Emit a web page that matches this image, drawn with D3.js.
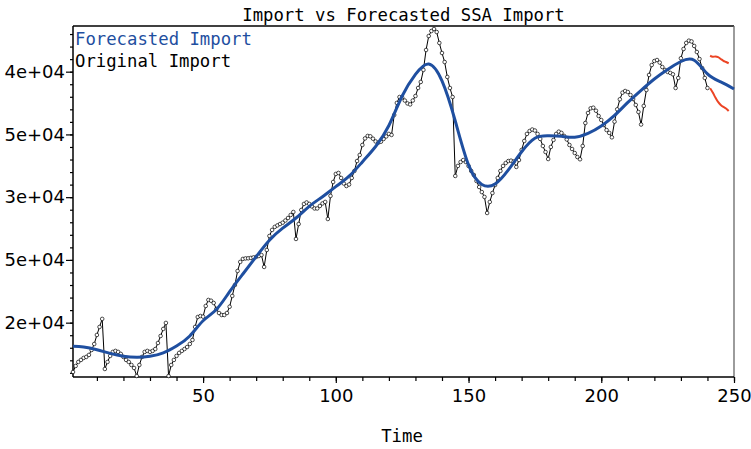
<!DOCTYPE html>
<html><head><meta charset="utf-8">
<script src="https://cdn.jsdelivr.net/npm/d3@7"></script>
<style>body{margin:0;background:#fff}svg{display:block}</style>
</head><body>
<svg id="chart" width="751" height="449"></svg>
<script>
// ---- data ----
const original = [
16070,16550,16870,17030,17190,17270,17430,17820,18300,19020,19660,20300,
16310,16870,17350,17670,17750,17670,17510,17270,17030,16870,16630,16390,
15750,16630,17270,17670,17750,17670,17750,17900,18380,18940,19500,19980,
15750,16630,17030,17350,17590,17750,17900,18060,18300,18620,19660,20450,
20530,20480,21330,21810,21750,21570,21090,20770,20610,20610,20770,21270,
22130,23000,24120,24840,25080,25120,25130,25160,25200,25240,25310,25390,
24440,25790,26910,27390,27630,27750,27860,27970,28140,28340,28580,28820,
26670,27860,28980,29460,29580,29460,29260,29100,29100,29300,29500,29620,
28260,30100,31210,31850,31930,31530,31090,30890,31010,31530,32090,32880,
33360,34160,34680,34880,34850,34660,34440,34340,34420,34640,34840,35040,
34960,36550,37510,37980,37940,37700,37470,37390,37700,38060,38700,39180,
40140,41730,42840,43240,43400,43160,42290,41490,40770,39580,38700,37980,
31690,32490,32800,32960,32800,32490,32090,31770,31290,30810,30410,30020,
28740,29620,30330,30970,31530,32090,32490,32720,32880,32910,32840,32410,
32960,33760,34480,35040,35270,35390,35310,35040,34640,34080,33600,33040,
34000,34560,35040,35220,35120,34880,34600,34160,33840,33520,33200,33020,
34080,35910,36710,37080,37130,36890,36470,36150,35750,35350,35120,34770,
36020,37000,37800,38330,38460,38380,38140,37820,37350,36790,35790,37270,
38540,39740,40530,40850,40930,40730,40370,40140,39980,39900,39790,38700,
39500,41070,41810,42290,42470,42410,42050,41570,41010,40290,39500,38700
];
const forecastTime = [1,5,10,15,20,25,30,35,40,45,50,55,60,65,70,75,80,85,90,95,
100,105,110,115,120,125,130,135,140,145,150,155,160,165,170,175,180,185,190,195,
200,205,210,215,220,225,230,235,240,245,250];
const forecast = [
18120,18060,17840,17550,17330,17250,17320,17590,18140,18940,
20150,21050,22470,23880,25260,26570,27530,28340,29270,30040,
30840,31670,32810,34040,35710,38060,39780,40610,39260,36070,
32570,31010,31050,32170,33620,34700,34890,34850,34780,35080,
35670,36510,37550,38520,39420,40180,40810,40910,39820,39180,38620
];
const boundTime = [241,242,243,244,245,246,247,248];
const upperBound = [41270,41190,41210,41160,41010,40870,40770,40670];
const lowerBound = [38680,38340,37940,37590,37350,37190,37070,36870];
const xTickValues = [50,100,150,200,250];
const yTickValues = [20000,25000,30000,35000,40000];
const yTickLabels = ["2e+04","5e+04","3e+04","5e+04","4e+04"];
const titleText = "Import vs Forecasted SSA Import";
const legendLabels = ["Forecasted Import","Original Import"];

// ---- layout ----
const L = 73, T = 26, R = 734, B = 377;
const BLUE = "#1f4fa0", RED = "#ec4424";
const MONO = "'DejaVu Sans Mono', monospace";
const SANS = "'DejaVu Sans', sans-serif";

const svg = d3.select("#chart");
const x = d3.scaleLinear().domain([1, 250]).range([L, R]);
const y = d3.scaleLinear().domain([15670, 43640]).range([B, T]);

// frame
svg.append("line").attr("x1", L).attr("x2", R).attr("y1", T).attr("y2", T).attr("stroke", "#000").attr("stroke-width", 1.3);
svg.append("line").attr("x1", R).attr("x2", R).attr("y1", T).attr("y2", B).attr("stroke", "#666").attr("stroke-width", 1.3);

// axes
const gx = svg.append("g").attr("transform", `translate(0,${B})`);
gx.call(d3.axisBottom(x).tickValues(d3.range(10, 251, 10)).tickSize(4).tickFormat(""));
gx.call(g => g.selectAll(".tick line").attr("stroke-width", 1.2));
const gx2 = svg.append("g").attr("transform", `translate(0,${B})`);
gx2.call(d3.axisBottom(x).tickValues(xTickValues).tickSize(6).tickPadding(6).tickFormat(d3.format("d")));
[gx, gx2].forEach(g => { g.select(".domain").remove(); });
gx2.selectAll(".tick line").attr("stroke-width", 1.2);
gx2.selectAll("text").attr("font-family", SANS).attr("font-size", 18).attr("fill", "#000");

const gy = svg.append("g").attr("transform", `translate(${L},0)`);
gy.call(d3.axisLeft(y).tickValues(d3.range(16000, 43001, 1000)).tickSize(3).tickFormat(""));
const gy2 = svg.append("g").attr("transform", `translate(${L},0)`);
gy2.call(d3.axisLeft(y).tickValues(yTickValues).tickSize(7).tickPadding(1).tickFormat((d, i) => yTickLabels[i]));
[gy, gy2].forEach(g => { g.select(".domain").remove(); g.selectAll(".tick line").attr("stroke-width", 1.2); });
gy2.selectAll("text").attr("font-family", SANS).attr("font-size", 18).attr("fill", "#000");

svg.append("line").attr("x1", L).attr("x2", L).attr("y1", T).attr("y2", B).attr("stroke", "#000").attr("stroke-width", 1.5);
svg.append("line").attr("x1", L).attr("x2", R).attr("y1", B).attr("y2", B).attr("stroke", "#000").attr("stroke-width", 1.5);

// original series
const orig = original.map((v, i) => ({t: i + 1, v}));
svg.append("path").datum(orig)
  .attr("d", d3.line().x(d => x(d.t)).y(d => y(d.v)))
  .attr("fill", "none").attr("stroke", "#000").attr("stroke-width", 1);
svg.append("g").selectAll("circle").data(orig).join("circle")
  .attr("cx", d => x(d.t)).attr("cy", d => y(d.v)).attr("r", 1.8)
  .attr("fill", "#fff").attr("stroke", "#000").attr("stroke-width", 0.7);

// forecast curve
const fc = forecast.map((v, i) => ({t: forecastTime[i], v}));
svg.append("path").datum(fc)
  .attr("d", d3.line().x(d => x(d.t)).y(d => y(d.v)).curve(d3.curveNatural))
  .attr("fill", "none").attr("stroke", BLUE).attr("stroke-width", 3);

// bounds
[upperBound, lowerBound].forEach(arr => {
  svg.append("path").datum(arr.map((v, i) => ({t: boundTime[i], v})))
    .attr("d", d3.line().x(d => x(d.t)).y(d => y(d.v)).curve(d3.curveCatmullRom))
    .attr("fill", "none").attr("stroke", RED).attr("stroke-width", 2);
});

// texts
svg.append("text").attr("x", (L + R) / 2).attr("y", 20.5).attr("text-anchor", "middle")
  .attr("font-family", MONO).attr("font-size", 17.3).text(titleText);
svg.append("text").attr("x", 402).attr("y", 442).attr("text-anchor", "middle")
  .attr("font-family", MONO).attr("font-size", 17.3).text("Time");
svg.append("text").attr("x", 75).attr("y", 45).attr("font-family", MONO).attr("font-size", 17.3)
  .attr("fill", BLUE).text(legendLabels[0]);
svg.append("text").attr("x", 75).attr("y", 66.5).attr("font-family", MONO).attr("font-size", 17.3)
  .attr("fill", "#000").text(legendLabels[1]);
</script>
</body></html>
